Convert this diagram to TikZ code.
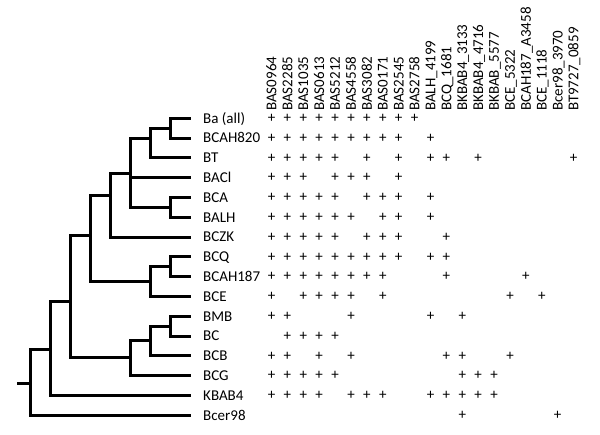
\documentclass[tikz,border=0pt]{standalone}
\usepackage{fontspec}
\setmainfont{Carlito}
\usepackage{tikz}
\usetikzlibrary{positioning}
\newcommand{\labfont}{\fontsize{15pt}{18pt}\selectfont}

\begin{document}
\begin{tikzpicture}[x=1pt, y=-1pt]
\tikzstyle{taxon}=[font=\labfont, inner sep=0pt, text height=9.7pt, text depth=0pt]
\tikzstyle{gene}=[font=\labfont, inner sep=0pt, anchor=west, rotate=90, text height=9.7pt, text depth=0pt]
\tikzstyle{hit}=[font=\labfont, inner sep=0pt]
\tikzstyle{branch}=[line width=3pt]

\useasboundingbox (0,0) rectangle (600,435);

% taxa, one row each
\foreach \t [count=\i from 0] in {Ba (all), BCAH820, BT, BACl, BCA, BALH, BCZK, BCQ, BCAH187, BCE, BMB, BC, BCB, BCG, KBAB4, Bcer98} {
  \coordinate (l\i) at (191, {118.3+19.8*\i});
  \node[taxon, right=12pt of l\i] (t\i) {\t};
}

% gene columns
\foreach \g [count=\j from 0] in {BAS0964, BAS2285, BAS1035, BAS0613, BAS5212, BAS4558, BAS3082, BAS0171, BAS2545, BAS2758, BALH\_4199, BCQ\_1681, BKBAB4\_3133, BKBAB4\_4716, BKBAB\_5577, BCE\_5322, BCAH187\_A3458, BCE\_1118, Bcer98\_3970, BT9727\_0859}
  \node[gene] (g\j) at ({271.5+15.9*\j}, 111) {\g};

% presence marks
\foreach \r/\cols in {0/{0,1,2,3,4,5,6,7,8,9}, 1/{0,1,2,3,4,5,6,7,8,10}, 2/{0,1,2,3,4,6,8,10,11,13,19},
    3/{0,1,2,4,5,6,8}, 4/{0,1,2,3,4,6,7,8,10}, 5/{0,1,2,3,4,5,7,8,10}, 6/{0,1,2,3,4,6,7,8,11},
    7/{0,1,2,3,4,5,6,7,8,10,11}, 8/{0,1,2,3,4,5,6,7,11,16}, 9/{0,2,3,4,5,7,15,17}, 10/{0,1,5,10,12},
    11/{1,2,3,4}, 12/{0,1,3,5,11,12,15}, 13/{0,1,2,3,4,12,13,14}, 14/{0,1,2,3,5,6,7,10,11,12,13,14}, 15/{12,18}}
  \foreach \c in \cols
    \node[hit] (p\r-\c) at ({271.5+15.9*\c}, {118.3+19.8*\r}) {+};

% tree
\coordinate (ba) at (170,128.2);
\coordinate (bt) at (150,139);
\coordinate (bca) at (170,207.4);
\coordinate (bacl) at (130,174);
\coordinate (bczk) at (110,196);
\coordinate (bcq) at (170,266.8);
\coordinate (bce) at (150,282);
\coordinate (anth) at (90,236);
\coordinate (bmb) at (170,326.2);
\coordinate (bcb) at (150,341);
\coordinate (bcg) at (130,358);
\coordinate (core) at (70,302);
\coordinate (kbab) at (50,350);
\coordinate (root) at (30,384);
\coordinate (stem) at (17,384);

\draw[branch] (stem) -- (root);
\draw[branch] (root) |- (kbab) (root) |- (l15);
\draw[branch] (kbab) |- (core) (kbab) |- (l14);
\draw[branch] (core) |- (anth) (core) |- (bcg);
\draw[branch] (anth) |- (bczk) (anth) |- (bce);
\draw[branch] (bczk) |- (bacl) (bczk) |- (l6);
\draw[branch] (bacl) |- (bt) (bacl) |- (l3) (bacl) |- (bca);
\draw[branch] (bt) |- (ba) (bt) |- (l2);
\draw[branch] (ba) |- (l0) (ba) |- (l1);
\draw[branch] (bca) |- (l4) (bca) |- (l5);
\draw[branch] (bce) |- (bcq) (bce) |- (l9);
\draw[branch] (bcq) |- (l7) (bcq) |- (l8);
\draw[branch] (bcg) |- (bcb) (bcg) |- (l13);
\draw[branch] (bcb) |- (bmb) (bcb) |- (l12);
\draw[branch] (bmb) |- (l10) (bmb) |- (l11);

\end{tikzpicture}
\end{document}
